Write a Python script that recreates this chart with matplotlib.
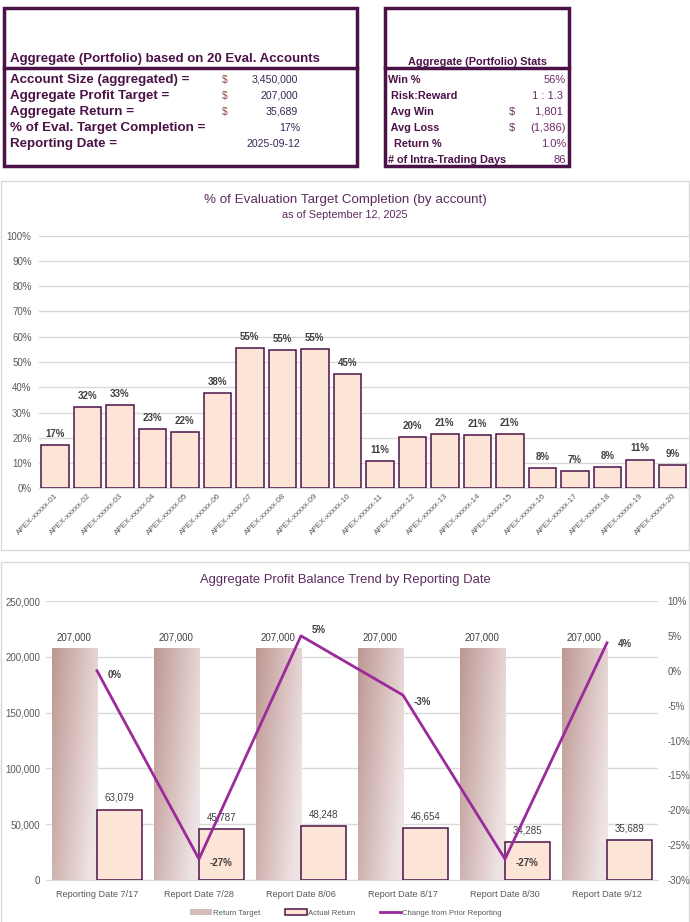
import numpy as np
import matplotlib
matplotlib.use("Agg")
import matplotlib.pyplot as plt
from matplotlib.patches import Rectangle, Patch
from matplotlib.lines import Line2D
from matplotlib.ticker import FuncFormatter, MultipleLocator

plt.rcParams['font.family'] = ['Liberation Sans Narrow', 'Liberation Sans', 'DejaVu Sans']

# ---- data ----
summary_labels = ["Account Size (aggregated) =", "Aggregate Profit Target =",
                  "Aggregate Return =", "% of Eval. Target Completion =", "Reporting Date ="]
summary_dollar = [True, True, True, False, False]
summary_values = ["3,450,000", "207,000", "35,689", "17%", "2025-09-12"]

stats_labels = ["Win %", " Risk:Reward", " Avg Win", " Avg Loss", "  Return %", "# of Intra-Trading Days"]
stats_dollar = [False, False, True, True, False, False]
stats_values = ["56%", "1 : 1.3 ", "1,801 ", "(1,386)", "1.0%", "86"]

accounts = ["APEX-xxxxx-%02d" % i for i in range(1, 21)]
completion = [17.0, 32.0, 32.8, 23.3, 22.2, 37.6, 55.4, 54.6, 55.0, 45.1,
              10.7, 20.2, 21.4, 21.0, 21.4, 7.9, 6.7, 8.4, 11.4, 9.2]

report_dates = ["Reporting Date 7/17", "Report Date 7/28", "Report Date 8/06",
                "Report Date 8/17", "Report Date 8/30", "Report Date 9/12"]
return_target = [207000, 207000, 207000, 207000, 207000, 207000]
actual_return = [63079, 45787, 48248, 46654, 34285, 35689]
change_prior = [0.0, -0.27, 0.05, -0.035, -0.27, 0.04]
change_labels = ["0%", "-27%", "5%", "-3%", "-27%", "4%"]

W, H = 690, 922
DARK = "#4B1248"
TITLE = "#5E2A5E"
GRAY = "#595959"
PEACH = "#FCE4D6"
LINEC = "#9B2A9B"

fig = plt.figure(figsize=(W / 100, H / 100), dpi=100)


def px_axes(x0, y0, x1, y1, **kw):
    return fig.add_axes([x0 / W, 1 - y1 / H, (x1 - x0) / W, (y1 - y0) / H], **kw)


# ---- overlay for boxes / borders ----
bg = px_axes(0, 0, W, H)
bg.set_xlim(0, W)
bg.set_ylim(H, 0)
bg.axis("off")

# top-left box
bg.add_patch(Rectangle((4, 8), 353, 158, fill=False, ec=DARK, lw=2.5))
bg.plot([4, 357], [68.5, 68.5], color=DARK, lw=2.5)
bg.text(10, 62, "Aggregate (Portfolio) based on 20 Eval. Accounts", family="Liberation Sans",
        weight="bold", fontsize=9.5, color=DARK, va="baseline")
for i, (lab, dol, val) in enumerate(zip(summary_labels, summary_dollar, summary_values)):
    y = 83 + i * 16
    bg.text(10, y, lab, family="Liberation Sans", weight="bold", fontsize=9.6, color=DARK, va="baseline")
    if dol:
        bg.text(222, y, "$", family="Liberation Sans", fontsize=7.5, color="#8B4A3A", va="baseline")
    bg.text(298 if i < 3 else 300, y, val, family="Liberation Sans", fontsize=7.6, color="#3A2456",
            va="baseline", ha="right")

# top-right box
bg.add_patch(Rectangle((385, 8), 184, 158, fill=False, ec=DARK, lw=2.5))
bg.plot([385, 569], [68.5, 68.5], color=DARK, lw=2.5)
bg.text(477, 65, "Aggregate (Portfolio) Stats", weight="bold", fontsize=7.8, color=DARK,
        ha="center", va="baseline")
for i, (lab, dol, val) in enumerate(zip(stats_labels, stats_dollar, stats_values)):
    y = 83 + i * 16
    bg.text(388, y, lab, weight="bold", fontsize=7.8, color=DARK, va="baseline")
    if dol:
        bg.text(509, y, "$", fontsize=8, color="#6B2D6B", va="baseline")
    bg.text(566, y, val, fontsize=8, color="#6B2D6B", va="baseline", ha="right")

# chart borders
bg.add_patch(Rectangle((1, 181), 688, 369, fill=False, ec="#D9D9D9", lw=1))
bg.add_patch(Rectangle((1, 562), 688, 362, fill=False, ec="#D9D9D9", lw=1))

# ---- chart 1 ----
ax1 = px_axes(38.6, 235.7, 688.6, 488.3)
x1 = np.arange(len(accounts))
bars = ax1.bar(x1, completion, width=0.85, color=PEACH, edgecolor=DARK, lw=1.1, zorder=3)
for xi, v in zip(x1, completion):
    ax1.text(xi, v + 2.5, "%d%%" % round(v), ha="center", va="bottom", fontsize=7,
             weight="bold", color="#404040")
ax1.set_xlim(-0.5, len(accounts) - 0.5)
ax1.set_ylim(0, 100)
ax1.yaxis.set_major_locator(MultipleLocator(10))
ax1.yaxis.set_major_formatter(FuncFormatter(lambda v, p: "%d%%" % v))
ax1.grid(axis="y", color="#D9D9D9", lw=1, zorder=0)
ax1.set_xticks(x1)
ax1.set_xticklabels(accounts, rotation=45, ha="right", rotation_mode="anchor", fontsize=5.8, color=GRAY)
ax1.tick_params(axis="y", labelsize=7, colors=GRAY, length=0, pad=5)
ax1.tick_params(axis="x", length=0, pad=3)
for s in ax1.spines.values():
    s.set_visible(False)
ax1.spines["bottom"].set_visible(True)
ax1.spines["bottom"].set_color("#D9D9D9")
bg.text(345, 203, "% of Evaluation Target Completion (by account)", ha="center", va="baseline",
        fontsize=9.6, color=TITLE)
bg.text(345, 218, "as of September 12, 2025", ha="center", va="baseline", fontsize=7.8, color=TITLE)

# ---- chart 2 ----
ax2 = px_axes(46, 601, 658, 880)
x2 = np.arange(len(report_dates))
bw = 0.446
off = 0.223

# gradient for return target bars
gy, gx = np.mgrid[0:1:40j, 0:1:40j]
t = np.clip(0.8 * gx + 0.35 * gy, 0, 1)
c0 = np.array([0xBE, 0x98, 0x93]) / 255.0
c1 = np.array([0xEE, 0xE3, 0xE3]) / 255.0
grad = c0[None, None, :] * (1 - t[..., None]) + c1[None, None, :] * t[..., None]
for xi, v in zip(x2, return_target):
    ax2.imshow(grad, extent=(xi - off - bw / 2, xi - off + bw / 2, 0, v), origin="upper",
               aspect="auto", zorder=2, interpolation="bilinear")
    ax2.text(xi - off, v + 6000, "{:,}".format(v), ha="center", va="bottom", fontsize=7, color="#404040")

ax2.bar(x2 + off, actual_return, width=bw, color=PEACH, edgecolor=DARK, lw=1.1, zorder=3)
for xi, v in zip(x2, actual_return):
    ax2.text(xi + off, v + 6000, "{:,}".format(v), ha="center", va="bottom", fontsize=7, color="#404040")

ax2.set_xlim(-0.5, len(report_dates) - 0.5)
ax2.set_ylim(0, 250000)
ax2.yaxis.set_major_locator(MultipleLocator(50000))
ax2.yaxis.set_major_formatter(FuncFormatter(lambda v, p: "{:,}".format(int(v))))
ax2.grid(axis="y", color="#D9D9D9", lw=1, zorder=0)
ax2.set_axisbelow(True)
ax2.set_xticks(x2)
ax2.set_xticklabels(report_dates, fontsize=6.6, color=GRAY)
ax2.tick_params(axis="y", labelsize=7, colors=GRAY, length=0, pad=4)
ax2.tick_params(axis="x", length=0, pad=7)
for s in ax2.spines.values():
    s.set_visible(False)
ax2.spines["bottom"].set_visible(True)
ax2.spines["bottom"].set_color("#D9D9D9")

ax3 = ax2.twinx()
ax3.plot(x2, change_prior, color=LINEC, lw=2, zorder=5)
ax3.set_ylim(-0.30, 0.10)
ax3.yaxis.set_major_locator(MultipleLocator(0.05))
ax3.yaxis.set_major_formatter(FuncFormatter(lambda v, p: "%d%%" % round(v * 100)))
ax3.tick_params(axis="y", labelsize=7, colors=GRAY, length=0, pad=7)
for s in ax3.spines.values():
    s.set_visible(False)
label_offsets = [(8, -3), (8, -3), (8, 4), (8, -5), (8, -3), (8, -1)]
for xi, v, lab, (dx, dy) in zip(x2, change_prior, change_labels, label_offsets):
    ax3.annotate(lab, (xi, v), xytext=(dx, dy), textcoords="offset points", ha="left", va="center",
                 fontsize=7, weight="bold", color="#404040")

bg.text(345, 583, "Aggregate Profit Balance Trend by Reporting Date", ha="center", va="baseline",
        fontsize=9.4, color=TITLE)

handles = [Patch(facecolor="#D3BDBA", edgecolor="none"),
           Patch(facecolor=PEACH, edgecolor=DARK, lw=1.1),
           Line2D([0], [0], color=LINEC, lw=2)]
fig.legend(handles, ["Return Target", "Actual Return", "Change from Prior Reporting"],
           loc="center", bbox_to_anchor=(346 / W, 1 - 913 / H), ncol=3, frameon=False,
           fontsize=5.6, labelcolor=GRAY, handlelength=2.8, handleheight=0.8,
           handletextpad=0.1, columnspacing=3.2)

fig.savefig("out.png", dpi=100)
